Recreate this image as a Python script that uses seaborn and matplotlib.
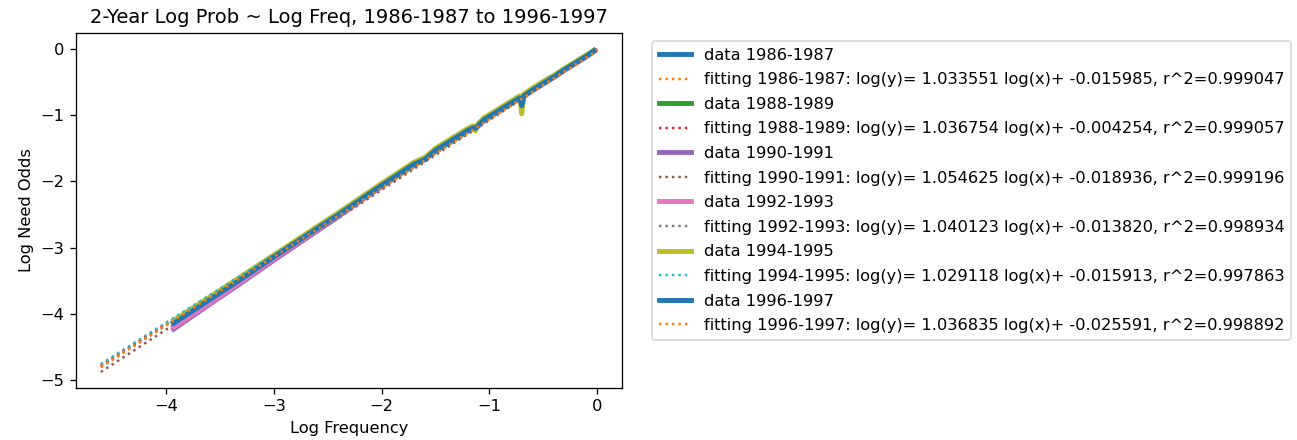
import numpy as np
import pandas as pd
import matplotlib
matplotlib.use("Agg")
import matplotlib.pyplot as plt
import seaborn as sns

# periods shown in the chart
periods = ["1986-1987", "1988-1989", "1990-1991", "1992-1993", "1994-1995", "1996-1997"]

# fitted coefficients printed in the legend
slopes = [1.033551, 1.036754, 1.054625, 1.040123, 1.029118, 1.036835]
intercepts = [-0.015985, -0.004254, -0.018936, -0.013820, -0.015913, -0.025591]
r2s = [0.999047, 0.999057, 0.999196, 0.998934, 0.997863, 0.998892]

# fitted lines, read at both ends (x = log(0.01) and x = 0)
fit_x = [-4.605, 0.0]
fit_y = [
    [-4.775, -0.016],
    [-4.778, -0.004],
    [-4.875, -0.019],
    [-4.804, -0.014],
    [-4.755, -0.016],
    [-4.800, -0.026],
]

data_x = [-3.93, -3.6, -3.3, -3.0, -2.7, -2.4, -2.2, -2.0, -1.85, -1.7, -1.6, -1.5,
          -1.4, -1.3, -1.2, -1.15, -1.13, -1.1, -1.05, -0.95, -0.85, -0.75, -0.72,
          -0.70, -0.68, -0.6, -0.5, -0.4, -0.3, -0.2, -0.1, -0.03]
data_y = [
    [-4.13, -3.78, -3.46, -3.14, -2.82, -2.50, -2.28, -2.06, -1.90, -1.74, -1.66, -1.53,
     -1.43, -1.33, -1.23, -1.19, -1.20, -1.15, -1.07, -0.97, -0.87, -0.77, -0.74,
     -0.82, -0.71, -0.62, -0.52, -0.42, -0.31, -0.21, -0.11, -0.03],
    [-4.12, -3.77, -3.45, -3.12, -2.80, -2.48, -2.26, -2.04, -1.88, -1.72, -1.65, -1.51,
     -1.41, -1.31, -1.21, -1.17, -1.19, -1.13, -1.05, -0.95, -0.85, -0.75, -0.72,
     -0.80, -0.69, -0.60, -0.50, -0.40, -0.30, -0.20, -0.10, -0.02],
    [-4.23, -3.86, -3.53, -3.19, -2.86, -2.53, -2.30, -2.08, -1.91, -1.75, -1.67, -1.54,
     -1.44, -1.34, -1.24, -1.20, -1.21, -1.16, -1.08, -0.98, -0.88, -0.78, -0.75,
     -0.84, -0.72, -0.63, -0.53, -0.43, -0.32, -0.22, -0.12, -0.04],
    [-4.20, -3.84, -3.51, -3.17, -2.84, -2.51, -2.29, -2.07, -1.90, -1.74, -1.66, -1.53,
     -1.43, -1.33, -1.23, -1.19, -1.20, -1.15, -1.07, -0.97, -0.87, -0.77, -0.74,
     -0.83, -0.71, -0.62, -0.52, -0.42, -0.31, -0.21, -0.11, -0.03],
    [-4.10, -3.75, -3.43, -3.11, -2.79, -2.47, -2.25, -2.03, -1.87, -1.71, -1.64, -1.50,
     -1.40, -1.30, -1.20, -1.16, -1.24, -1.12, -1.04, -0.94, -0.84, -0.74, -0.71,
     -0.98, -0.68, -0.59, -0.49, -0.40, -0.29, -0.19, -0.09, -0.02],
    [-4.14, -3.79, -3.47, -3.14, -2.82, -2.50, -2.28, -2.06, -1.90, -1.74, -1.67, -1.53,
     -1.43, -1.33, -1.23, -1.19, -1.20, -1.15, -1.07, -0.97, -0.87, -0.77, -0.74,
     -0.86, -0.71, -0.62, -0.52, -0.42, -0.31, -0.21, -0.11, -0.03],
]

data_colors = ["#1f77b4", "#2ca02c", "#9467bd", "#e377c2", "#bcbd22", "#1f77b4"]
fit_colors = ["#ff7f0e", "#d62728", "#8c564b", "#7f7f7f", "#17becf", "#ff7f0e"]

DPI = 117
fig = plt.figure(figsize=(1297 / DPI, 440 / DPI), dpi=DPI)
ax = fig.add_axes([0.0586, 0.118, 0.421, 0.807])

for i, p in enumerate(periods):
    sns.lineplot(x=data_x, y=data_y[i], color=data_colors[i], lw=3, ax=ax,
                 label="data " + p, sort=False)
    lab = "fitting %s: log(y)= %f log(x)+ %f, r^2=%f" % (p, slopes[i], intercepts[i], r2s[i])
    sns.lineplot(x=fit_x, y=fit_y[i], color=fit_colors[i], ls=":", lw=1.5, ax=ax,
                 label=lab, sort=False)

ax.set_title("2-Year Log Prob ~ Log Freq, 1986-1987 to 1996-1997")
ax.set_xlabel("Log Frequency")
ax.set_ylabel("Log Need Odds")
ax.legend(bbox_to_anchor=(1.04, 1), loc="upper left", labelspacing=0.59)

fig.savefig("out.png", dpi=DPI)
